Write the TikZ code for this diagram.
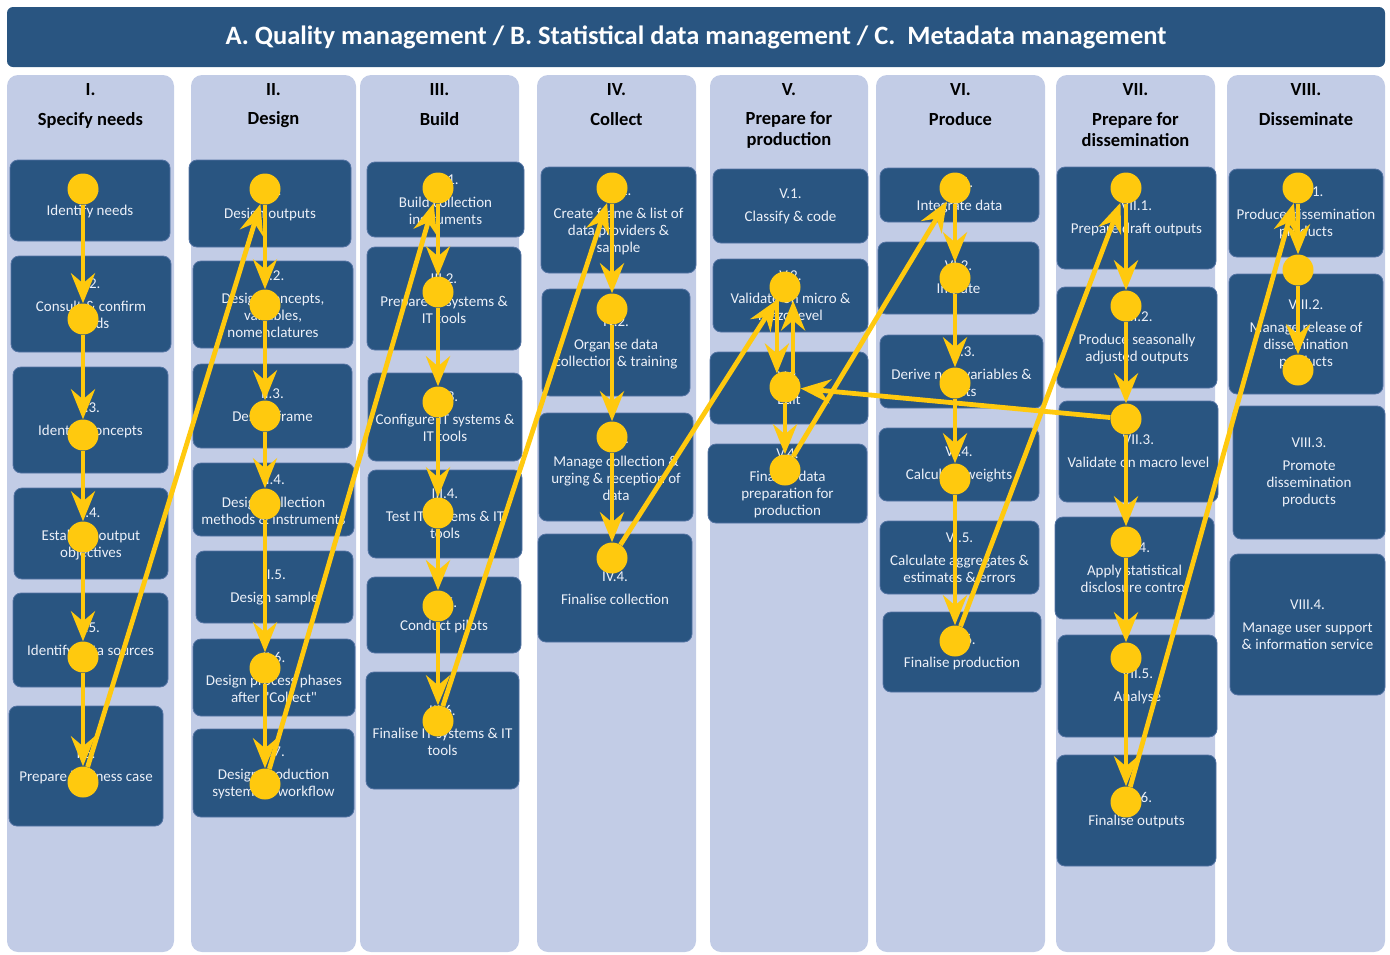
\documentclass[tikz,border=0pt]{standalone}
\usepackage{fontspec}
\setmainfont{Carlito}[Ligatures=TeXOff]
\usetikzlibrary{arrows.meta,fit}
\definecolor{dkblue}{RGB}{41,85,129}
\definecolor{colbg}{RGB}{194,204,230}
\definecolor{boxline}{RGB}{84,116,164}
\definecolor{gold}{RGB}{255,201,14}
\definecolor{boxtxt}{RGB}{236,240,248}
\newcommand\gbox[6]{\node[box, minimum width={(#4-#2)*1pt}, minimum height={(#5-#3)*1pt}]
  (#1) at ({(#2+#4)/2},{(#3+#5)/2}) {#6};}
\newcommand\gcol[6]{%
  \node[colbox, minimum width={(#3-#2)*1pt}, minimum height=877pt] (#1) at ({(#2+#3)/2},513.5) {};
  \node[hnum] (#1num) at ({(#2+#3)/2},90) {#4};
  \node[hname] (#1name) at ({(#2+#3)/2},#5) {#6};}
\begin{document}
\begin{tikzpicture}[x=1pt,y=-1pt,
 colbox/.style={fill=colbg, rounded corners=11pt, inner sep=0pt, draw=none},
 box/.style={fill=dkblue, draw=boxline, line width=0.8pt, rounded corners=8pt, inner sep=0pt,
   text=boxtxt, align=center, font=\fontsize{15}{17}\selectfont},
 dot/.style={circle, fill=gold, minimum size=31pt, inner sep=0pt},
 flow/.style={draw=gold, line width=4.8pt, -{Stealth[length=30pt,width=24pt,inset=10pt]}},
 hnum/.style={font=\bfseries\fontsize{18.5}{21}\selectfont, inner sep=0pt},
 hname/.style={font=\bfseries\fontsize{18.5}{21}\selectfont, align=center, inner sep=0pt},
 banner/.style={fill=dkblue, rounded corners=6pt, inner sep=0pt, text=white,
   font=\bfseries\fontsize{26.5}{30}\selectfont},
]
\useasboundingbox (0,0) rectangle (1390,954);

% title banner
\node[banner, minimum width=1378pt, minimum height=60pt] (title) at (696,37) {A. Quality management / B. Statistical data management / C.\ \ Metadata management};

% columns
\gcol{colI}{7}{174}{I.}{120}{Specify needs}
\gcol{colII}{191}{356}{II.}{120}{Design}
\gcol{colIII}{360}{519}{III.}{119.5}{Build}
\gcol{colIV}{537}{696}{IV.}{119.5}{Collect}
\gcol{colV}{710}{868}{V.}{130}{Prepare for\\production}
\gcol{colVI}{876}{1045}{VI.}{119.5}{Produce}
\gcol{colVII}{1056}{1215}{VII.}{130}{Prepare for\\dissemination}
\gcol{colVIII}{1227}{1385}{VIII.}{119.5}{Disseminate}

% boxes
\gbox{a1}{10}{160}{170}{241}{I.1.\\[6pt]Identify needs}
\gbox{a2}{11}{256}{171}{352}{I.2.\\[6pt]Consult \& confirm\\needs}
\gbox{a3}{13}{367}{168}{473}{I.3.\\[6pt]Identify concepts}
\gbox{a4}{14}{488}{168}{579}{I.4.\\[6pt]Establish output\\objectives}
\gbox{a5}{13}{593}{168}{687}{I.5.\\[6pt]Identify data sources}
\gbox{a6}{9}{706}{163}{826}{I.6.\\[6pt]Prepare business case}

\gbox{b1}{189}{160}{351}{247}{II.1.\\[6pt]Design outputs}
\gbox{b2}{193}{261}{353}{348}{II.2.\\[6pt]Design concepts,\\variables,\\nomenclatures}
\gbox{b3}{193}{364}{352}{448}{II.3.\\[6pt]Design frame}
\gbox{b4}{193}{463}{354}{536}{II.4.\\[6pt]Design collection\\methods \& instruments}
\gbox{b5}{196}{551}{353}{623}{II.5.\\[6pt]Design sample}
\gbox{b6}{193}{639}{355}{716}{II.6.\\[6pt]Design process phases\\after "Collect"}
\gbox{b7}{193}{729}{354}{817}{II.7.\\[6pt]Design production\\systems \& workflow}

\gbox{c1}{367}{162}{524}{237}{III.1.\\[6pt]Build collection\\instruments}
\gbox{c2}{367}{247}{521}{350}{III.2.\\[6pt]Prepare IT systems \&\\IT tools}
\gbox{c3}{368}{373}{522}{461}{III.3.\\[6pt]Configure IT systems \&\\IT tools}
\gbox{c4}{368}{470}{522}{558}{III.4.\\[6pt]Test IT systems \& IT\\tools}
\gbox{c5}{367}{577}{521}{653}{III.5.\\[6pt]Conduct pilots}
\gbox{c6}{366}{672}{519}{789}{III.6.\\[6pt]Finalise IT systems \& IT\\tools}

\gbox{d1}{541}{167}{696}{273}{IV.1.\\[6pt]Create frame \& list of\\data providers \&\\sample}
\gbox{d2}{542}{289}{690}{396}{IV.2.\\[6pt]Organise data\\collection \& training}
\gbox{d3}{539}{413}{693}{521}{IV.3.\\[6pt]Manage collection \&\\urging \& reception of\\data}
\gbox{d4}{538}{534}{692}{642}{IV.4.\\[6pt]Finalise collection}

\gbox{e1}{713}{169}{868}{243}{V.1.\\[6pt]Classify \& code}
\gbox{e2}{713}{259}{868}{332}{V.2.\\[6pt]Validate on micro \&\\mezo level}
\gbox{e3}{710}{352}{868}{424}{V.3.\\[6pt]Edit}
\gbox{e4}{708}{444}{867}{523}{V.4.\\[6pt]Finalise data\\preparation for\\production}

\gbox{f1}{880}{168}{1039}{222}{VI.1.\\[6pt]Integrate data}
\gbox{f2}{878}{242}{1039}{314}{VI.2.\\[6pt]Impute}
\gbox{f3}{880}{335}{1043}{408}{VI.3.\\[6pt]Derive new variables \&\\units}
\gbox{f4}{879}{428}{1039}{501}{VI.4.\\[6pt]Calculate weights}
\gbox{f5}{880}{521}{1039}{594}{VI.5.\\[6pt]Calculate aggregates \&\\estimates \& errors}
\gbox{f6}{883}{612}{1041}{692}{VI.6.\\[6pt]Finalise production}

\gbox{g1}{1057}{167}{1216}{269}{VII.1.\\[6pt]Prepare draft outputs}
\gbox{g2}{1057}{287}{1217}{388}{VII.2.\\[6pt]Produce seasonally\\adjusted outputs}
\gbox{g3}{1059}{401}{1218}{502}{VII.3.\\[6pt]Validate on macro level}
\gbox{g4}{1055}{517}{1214}{619}{VII.4.\\[6pt]Apply statistical\\disclosure control}
\gbox{g5}{1058}{635}{1217}{737}{VII.5.\\[6pt]Analyse}
\gbox{g6}{1057}{755}{1216}{866}{VII.6.\\[6pt]Finalise outputs}

\gbox{h1}{1229}{169}{1383}{257}{VIII.1.\\[6pt]Produce dissemination\\products}
\gbox{h2}{1229}{274}{1383}{394}{VIII.2.\\[6pt]Manage release of\\dissemination\\products}
\gbox{h3}{1233}{406}{1385}{539}{VIII.3.\\[6pt]Promote\\dissemination\\products}
\gbox{h4}{1230}{554}{1385}{695}{VIII.4.\\[6pt]Manage user support\\\& information service}

% dots
\foreach \n/\x/\y in {pA1/83/189,pA2/83/319,pA3/83/435,pA4/83/537,pA5/83/657,pA6/83/782,
  pB1/265/189,pB2/265/305,pB3/265/416,pB4/265/504,pB6/265/668,pB7/265/784,
  pC1/438/188,pC2/438/292,pC3/438/402,pC4/438/513,pC5/438/606,pC6/438/721,
  pD1/612/188,pD2/612/309,pD3/612/437,pD4/612/558,
  pE2/785/287,pE3/785/387,pE4/785/470,
  pF1/955/188,pF2/955/278,pF3/955/383,pF4/955/479,pF6/955/641,
  pG1/1126/188,pG2/1126/306,pG3/1126/419,pG4/1126/542,pG5/1126/658,pG6/1126/802,
  pH1/1298/188,pH2/1298/270,pH3/1298/370}
  \node[dot] (\n) at (\x,\y) {};

% flows
\foreach \a/\b in {pA1/pA2,pA2/pA3,pA3/pA4,pA4/pA5,pA5/pA6,pA6/pB1,
  pB1/pB2,pB2/pB3,pB3/pB4,pB4/pB6,pB6/pB7,pB7/pC1,
  pC1/pC2,pC2/pC3,pC3/pC4,pC4/pC5,pC5/pC6,pC6/pD1,
  pD1/pD2,pD2/pD3,pD3/pD4,pD4/pE2,
  pE3/pE4,pE4/pF1,
  pF1/pF2,pF2/pF3,pF3/pF4,pF4/pF6,pF6/pG1,
  pG1/pG2,pG2/pG3,pG3/pG4,pG4/pG5,pG5/pG6,pG3/pE3,pG6/pH1,
  pH1/pH2,pH2/pH3}
  \draw[flow] (\a) -- (\b);
\draw[flow] (pE2.-121) -- (pE3.121);
\draw[flow] (pE3.59) -- (pE2.-59);
\end{tikzpicture}
\end{document}
